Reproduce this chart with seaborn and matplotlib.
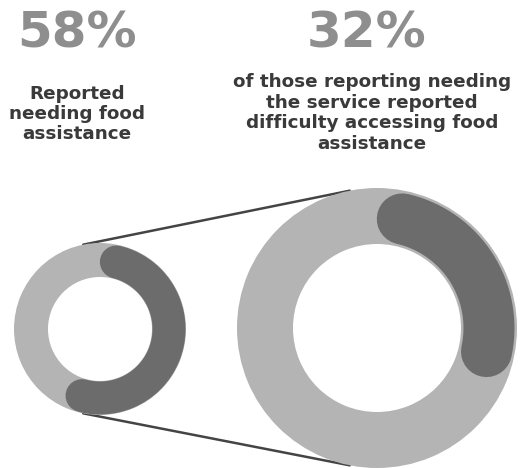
import numpy as np
import matplotlib
matplotlib.use("Agg")
import matplotlib.pyplot as plt
from matplotlib.patches import Wedge
import seaborn as sns

# ---- data ----
percents = [58, 32]
headline_labels = ["58%", "32%"]
descriptions = [
    "Reported\nneeding food\nassistance",
    "of those reporting needing\nthe service reported\ndifficulty accessing food\nassistance",
]

sns.set_theme(style="white")
plt.rcParams['font.family'] = ['DejaVu Sans']

W, H = 522, 468
fig = plt.figure(figsize=(W / 100, H / 100), dpi=100)
ax = fig.add_axes([0, 0, 1, 1])
ax.set_xlim(0, W)
ax.set_ylim(0, H)
ax.set_aspect("equal")
ax.axis("off")

def Y(py):
    return H - py

light = "#b4b4b4"
dark = "#6c6c6c"
numc = "#8e8e8e"
txtc = "#3a3a3a"

# ring geometry (pixel coords)
rings = [
    dict(cx=100, cy=329, R=86, r=52, dw=33),
    dict(cx=377, cy=328, R=140, r=84, dw=51),
]

# connector tangent lines (external tangents)
c1, c2 = rings
d = np.hypot(c2["cx"] - c1["cx"], c2["cy"] - c1["cy"])
alpha = np.arcsin((c2["R"] - c1["R"]) / d)
for sgn in (1, -1):
    ang = sgn * (np.pi / 2 + alpha)
    p1 = (c1["cx"] + c1["R"] * np.cos(ang), Y(c1["cy"]) + c1["R"] * np.sin(ang))
    p2 = (c2["cx"] + c2["R"] * np.cos(ang), Y(c2["cy"]) + c2["R"] * np.sin(ang))
    sns.lineplot(x=[p1[0], p2[0]], y=[p1[1], p2[1]], ax=ax, color="#444444",
                 linewidth=1.8, sort=False, estimator=None, zorder=1)

for ring, pct in zip(rings, percents):
    cx, cy = ring["cx"], Y(ring["cy"])
    ax.add_patch(Wedge((cx, cy), ring["R"], 0, 360, width=ring["R"] - ring["r"],
                       facecolor=light, edgecolor="none", zorder=2))
    rm = (ring["R"] + ring["r"]) / 2
    cap_deg = np.degrees((ring["dw"] / 2) / rm)
    start = 90 - cap_deg
    end = 90 - pct * 3.6 + cap_deg
    th = np.radians(np.linspace(start, end, 200))
    sns.lineplot(x=cx + rm * np.cos(th), y=cy + rm * np.sin(th), ax=ax,
                 color=dark, linewidth=ring["dw"] * 0.72, sort=False,
                 estimator=None, zorder=3, solid_capstyle="round")

# headline numbers
ax.text(77, Y(34), headline_labels[0], ha="center", va="center",
        fontsize=36, fontweight="bold", color=numc)
ax.text(367, Y(34), headline_labels[1], ha="center", va="center",
        fontsize=36, fontweight="bold", color=numc)

# descriptions
ax.text(77, Y(114), descriptions[0], ha="center", va="center",
        fontsize=13.2, fontweight="bold", color=txtc, linespacing=1.17)
ax.text(372, Y(113), descriptions[1], ha="center", va="center",
        fontsize=13.2, fontweight="bold", color=txtc, linespacing=1.17)

fig.savefig("out.png", dpi=100, facecolor="white")
